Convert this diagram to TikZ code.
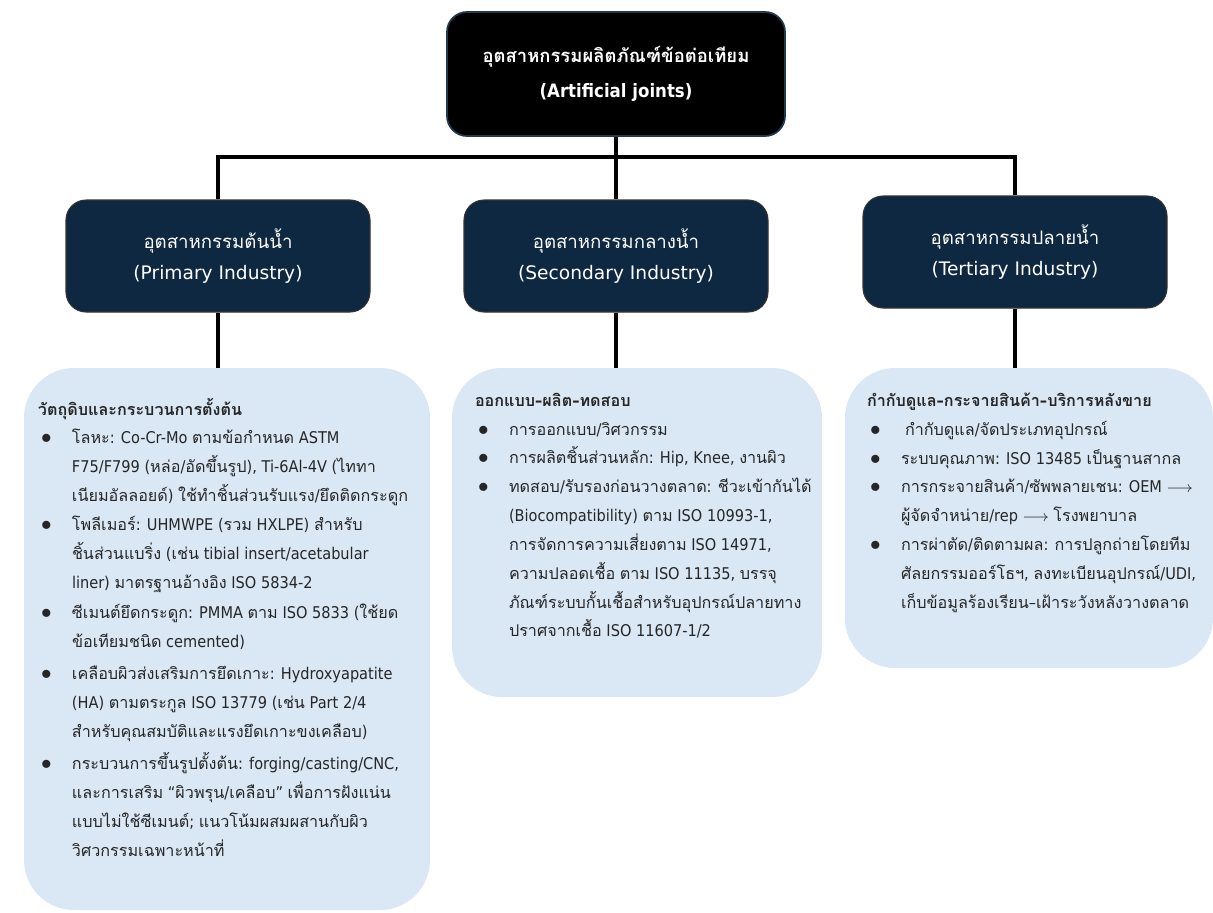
\documentclass[tikz,border=0pt]{standalone}
\usepackage{fontspec}
\setmainfont{DejaVu Sans}
\newfontfamily\thaifont[Script=Thai]{Loma}
\newfontfamily\latinreg{DejaVu Sans}
\newfontfamily\latinnarrow{DejaVu Sans}[FakeStretch=0.9]
\let\latinfont\latinreg
\XeTeXinterchartokenstate=1
\count255="0E00
\loop\ifnum\count255<"0E80 \XeTeXcharclass\count255=7 \advance\count255 by 1 \repeat
\XeTeXinterchartoks 0 7 = {\thaifont}
\XeTeXinterchartoks 1 7 = {\thaifont}
\XeTeXinterchartoks 2 7 = {\thaifont}
\XeTeXinterchartoks 3 7 = {\thaifont}
\XeTeXinterchartoks 4095 7 = {\thaifont}
\XeTeXinterchartoks 7 0 = {\latinfont}
\XeTeXinterchartoks 7 1 = {\latinfont}
\XeTeXinterchartoks 7 2 = {\latinfont}
\XeTeXinterchartoks 7 3 = {\latinfont}
\XeTeXinterchartoks 7 4095 = {\latinfont}
\usepackage{tikz}
\usetikzlibrary{positioning}
\definecolor{navy}{HTML}{0F2841}
\definecolor{paleblue}{HTML}{DAE7F5}
\definecolor{rootedge}{HTML}{1F3B4D}
\newcommand{\bul}{\hspace*{0.06cm}\makebox[0.62cm][l]{\scalebox{1.3}{$\bullet$}}}
\newcommand{\cnt}{\hspace*{0.68cm}}

\begin{document}
\begin{tikzpicture}[
  root/.style={fill=black,draw=rootedge,line width=1pt,rounded corners=0.4cm,
    minimum width=6.76cm,minimum height=2.48cm,text=white,align=center,
    font={\let\latinfont\latinnarrow\latinnarrow\bfseries\fontsize{10.5}{19.5}\selectfont}},
  head/.style={fill=navy,draw=black!80,line width=0.6pt,rounded corners=0.4cm,
    minimum width=6.08cm,minimum height=2.24cm,text=white,align=center,
    font={\fontsize{10.6}{18}\selectfont}},
  infobox/.style={fill=paleblue,rounded corners=1cm},
  info/.style={inner sep=0pt,align=left,text=black!85,
    font={\let\latinfont\latinnarrow\latinnarrow\fontsize{9.2}{16.4}\selectfont\lineskiplimit=-20pt}},
  link/.style={line width=1.8pt}]
  \useasboundingbox (0,0) rectangle (24.26,-18.24);

  \node[root] (top) at (12.32,-1.48) {อุตสาหกรรมผลิตภัณฑ์ข้อต่อเทียม\\(Artificial joints)};
  \node[head] (up) at (4.36,-5.12) {อุตสาหกรรมต้นน้ำ\\(Primary Industry)};
  \node[head] (mid) at (12.32,-5.12) {อุตสาหกรรมกลางน้ำ\\(Secondary Industry)};
  \node[head] (down) at (20.3,-5.04) {อุตสาหกรรมปลายน้ำ\\(Tertiary Industry)};
  \coordinate (bus) at (12.32,-3.14);

  \node[infobox,minimum width=8.12cm,minimum height=10.84cm] (upbox) at (4.54,-12.78) {};
  \node[infobox,minimum width=7.4cm,minimum height=6.58cm] (midbox) at (12.74,-10.65) {};
  \node[infobox,minimum width=7.36cm,minimum height=6cm] (downbox) at (20.58,-10.36) {};

  \draw[link] (top.south) -- (mid.north);
  \draw[link] (up.north) -- (up.north |- bus) -- (down.north |- bus) -- (down.north);
  \draw[link] (up.south) -- (up.south |- upbox.north);
  \draw[link] (mid.south) -- (mid.south |- midbox.north);
  \draw[link] (down.south) -- (down.south |- downbox.north);

  \node[info,below right=0.6cm and 0.28cm of upbox.north west] (upinfo) {%
    \textbf{วัตถุดิบและกระบวนการตั้งต้น}\\
    \bul โลหะ: Co-Cr-Mo ตามข้อกำหนด ASTM\\
    \cnt F75/F799 (หล่อ/อัดขึ้นรูป), Ti-6Al-4V (ไททา\\
    \cnt เนียมอัลลอยด์) ใช้ทำชิ้นส่วนรับแรง/ยึดติดกระดูก\\
    \bul โพลีเมอร์: UHMWPE (รวม HXLPE) สำหรับ\\
    \cnt ชิ้นส่วนแบริ่ง (เช่น tibial insert/acetabular\\
    \cnt liner) มาตรฐานอ้างอิง ISO 5834-2\\[1pt]
    \bul ซีเมนต์ยึดกระดูก: PMMA ตาม ISO 5833 (ใช้ยด\\
    \cnt ข้อเทียมชนิด cemented)\\[2pt]
    \bul เคลือบผิวส่งเสริมการยึดเกาะ: Hydroxyapatite\\
    \cnt (HA) ตามตระกูล ISO 13779 (เช่น Part 2/4\\
    \cnt สำหรับคุณสมบัติและแรงยึดเกาะขงเคลือบ)\\[2pt]
    \bul กระบวนการขึ้นรูปตั้งต้น: forging/casting/CNC,\\
    \cnt และการเสริม “ผิวพรุน/เคลือบ” เพื่อการฝังแน่น\\
    \cnt แบบไม่ใช้ซีเมนต์; แนวโน้มผสมผสานกับผิว\\
    \cnt วิศวกรรมเฉพาะหน้าที่};
  \node[info,below right=0.5cm and 0.46cm of midbox.north west] (midinfo) {%
    \textbf{ออกแบบ–ผลิต–ทดสอบ}\\
    \bul การออกแบบ/วิศวกรรม\\
    \bul การผลิตชิ้นส่วนหลัก: Hip, Knee, งานผิว\\
    \bul ทดสอบ/รับรองก่อนวางตลาด: ชีวะเข้ากันได้\\
    \cnt (Biocompatibility) ตาม ISO 10993-1,\\
    \cnt การจัดการความเสี่ยงตาม ISO 14971,\\
    \cnt ความปลอดเชื้อ ตาม ISO 11135, บรรจุ\\
    \cnt ภัณฑ์ระบบกั้นเชื้อสำหรับอุปกรณ์ปลายทาง\\
    \cnt ปราศจากเชื้อ ISO 11607-1/2};
  \node[info,below right=0.5cm and 0.44cm of downbox.north west] (downinfo) {%
    \textbf{กำกับดูแล–กระจายสินค้า–บริการหลังขาย}\\
    \bul\hspace{0.08cm}กำกับดูแล/จัดประเภทอุปกรณ์\\
    \bul ระบบคุณภาพ: ISO 13485 เป็นฐานสากล\\
    \bul การกระจายสินค้า/ซัพพลายเชน: OEM $\longrightarrow$\\
    \cnt ผู้จัดจำหน่าย/rep $\longrightarrow$ โรงพยาบาล\\
    \bul การผ่าตัด/ติดตามผล: การปลูกถ่ายโดยทีม\\
    \cnt ศัลยกรรมออร์โธฯ, ลงทะเบียนอุปกรณ์/UDI,\\
    \cnt เก็บข้อมูลร้องเรียน–เฝ้าระวังหลังวางตลาด};
\end{tikzpicture}
\end{document}
